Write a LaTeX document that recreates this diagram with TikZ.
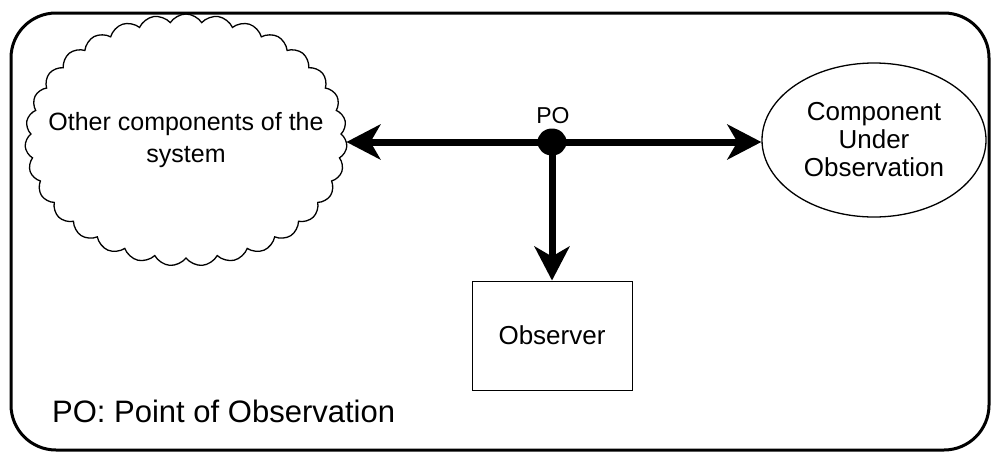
\documentclass[tikz,border=0pt]{standalone}
\usepackage{fontspec}
\setmainfont{Liberation Sans}
\usetikzlibrary{shapes.symbols,shapes.geometric,arrows.meta}

\tikzset{
  frame/.style={line width=3pt, rounded corners=45pt},
  lbl/.style={font=\fontsize{26}{28}\selectfont, align=center, text=black},
  cloudbox/.style={cloud, draw, line width=1.3pt, cloud puffs=31, cloud puff arc=115,
    cloud ignores aspect, minimum width=322pt, minimum height=252pt, inner sep=0pt},
  ovalbox/.style={ellipse, draw, line width=1.3pt, minimum width=224pt, minimum height=154pt, inner sep=0pt},
  obsbox/.style={rectangle, draw, line width=1pt, minimum width=160pt, minimum height=109pt, inner sep=0pt},
  pdot/.style={ellipse, fill=black, minimum width=29pt, minimum height=27pt, inner sep=0pt},
  flow/.style={line width=7pt, -{Stealth[length=34pt, width=35pt, inset=10pt]}},
}

\begin{document}
\begin{tikzpicture}[x=1pt, y=-1pt]
  \useasboundingbox (0,0) rectangle (996,453);
  % outer frame
  \draw[frame] (11,13) rectangle (989,450);

  % the parts of the system
  \node[cloudbox] (cloud) at (186,140) {};
  \node[lbl, font=\fontsize{25}{32}\selectfont, inner sep=0pt] (cloudtext) at (cloud.center) {Other components of the\\system};
  \node[ovalbox, lbl] (cuo) at (874,140) {Component\\Under\\Observation};
  \node[obsbox, lbl] (obs) at (552,335.5) {Observer};

  % point of observation
  \node[pdot] (po) at (552,142) {};
  \node[anchor=base, inner sep=0pt, font=\fontsize{23}{26}\selectfont] (polabel) at (553,123) {PO};

  % connectors leaving the point of observation
  \draw[flow] (po.center) -- (cloud.east |- po.center);
  \draw[flow] (po.center) -- (cuo.west |- po.center);
  \draw[flow] (po.center) -- (obs.north);

  % legend
  \node[anchor=base west, inner sep=0pt, font=\fontsize{31}{34}\selectfont] (legend) at (52,422) {PO: Point of Observation};
\end{tikzpicture}
\end{document}
